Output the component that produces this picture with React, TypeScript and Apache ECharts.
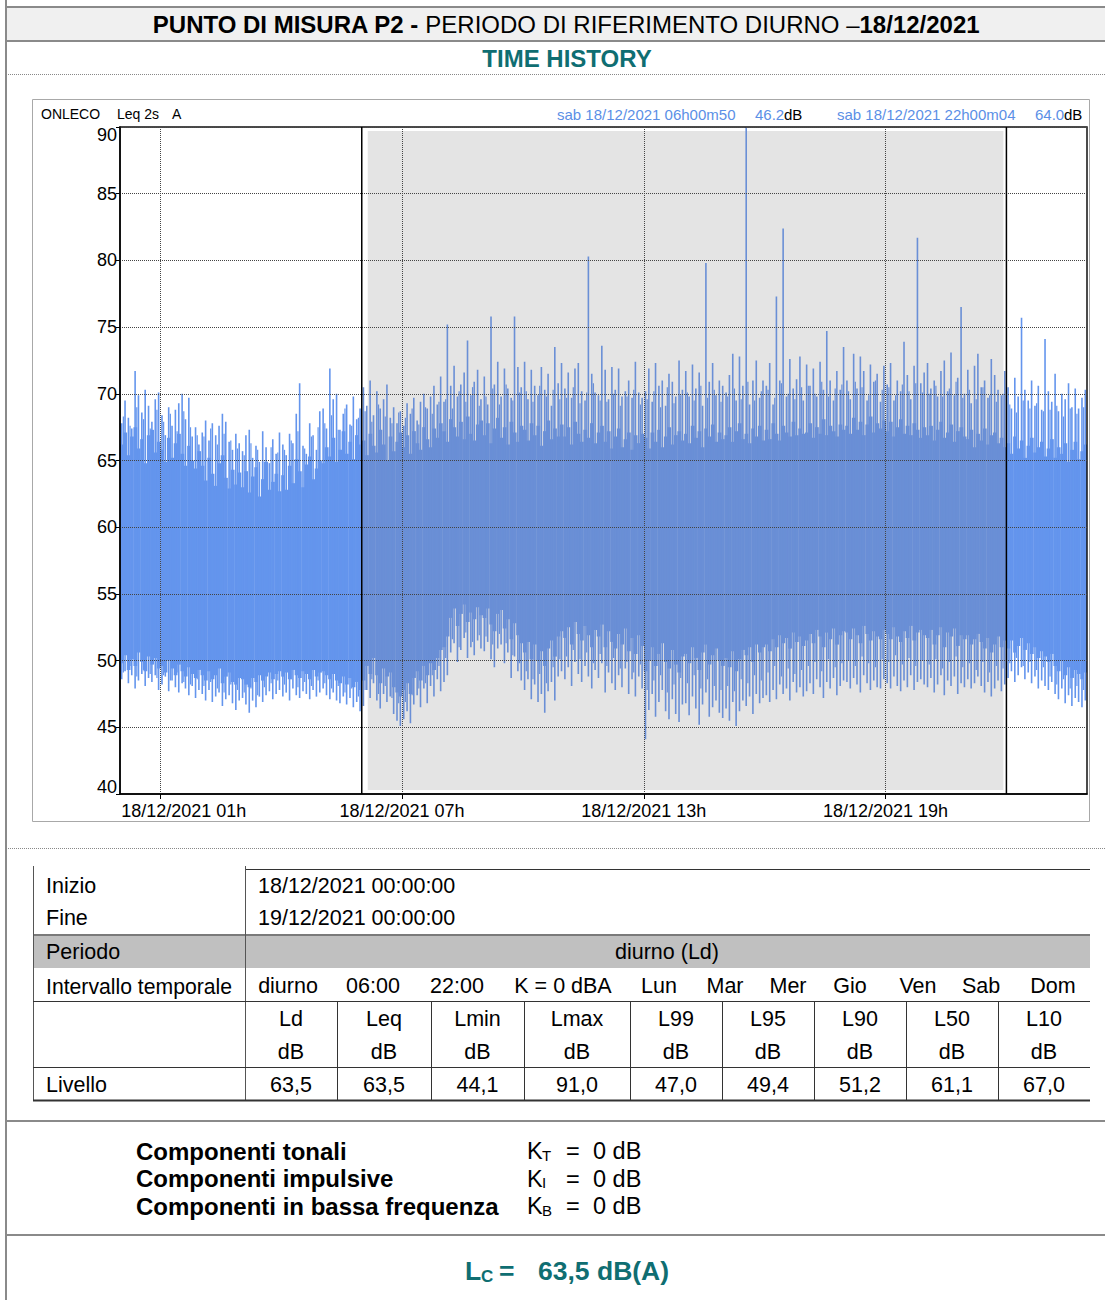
import React, { useEffect, useRef } from 'react';
import * as echarts from 'echarts';

const FONT = '"Liberation Sans", Arial, Helvetica, sans-serif';
const TEAL = '#0f6e72';
const BLUE_TXT = '#5b8fe6';
const NIGHT_BLUE = '#6495ed';
const DAY_BLUE = '#6a8fd6';

// x axis: hours of 18/12/2021
const X_TICK_HOURS = [1, 7, 13, 19];
const DAY_PERIOD = [6, 22];
const DATE_LABEL = '18/12/2021';

// Leq 2s, max per 5-minute bucket (dB), 12 per hour
const MAX_5MIN = [
  67.8, 69.5, 68.2, 67.4, 71.7, 69.9, 68.6, 70.3, 69.1, 67.9, 69.6, 70.1,
  68.4, 66.9, 69.0, 67.6, 68.8, 69.3, 70.0, 68.1, 69.7, 66.8, 67.5, 66.2,
  67.1, 68.0, 66.5, 67.8, 66.9, 67.6, 68.5, 67.9, 66.4, 65.8, 67.0, 66.3,
  65.7, 66.9, 67.3, 65.2, 66.1, 64.9, 67.2, 66.0, 64.8, 66.6, 65.5, 67.1,
  66.2, 65.4, 67.0, 66.3, 68.5, 70.8, 66.1, 65.5, 67.8, 66.9, 65.8, 68.7,
  68.9, 67.4, 71.9, 69.6, 70.0, 67.3, 68.5, 69.2, 67.7, 69.8, 68.1, 68.9,
  70.5, 69.1, 71.0, 68.4, 70.2, 68.9, 69.6, 70.7, 68.2, 69.0, 67.8, 68.7,
  67.6, 69.3, 68.5, 69.7, 68.0, 69.4, 70.0, 68.9, 69.8, 70.6, 69.2, 71.3,
  69.4, 75.2, 70.6, 72.1, 69.8, 70.7, 71.6, 74.0, 69.9, 70.9, 71.8, 69.6,
  71.3, 69.2, 75.8, 70.7, 72.4, 69.8, 71.9, 70.4, 69.7, 75.8, 72.0, 70.5,
  72.4, 69.6, 71.8, 70.6, 69.9, 72.0, 70.3, 71.5, 69.1, 73.5, 70.8, 72.3,
  70.4, 71.6, 69.7, 71.9, 72.3, 70.2, 69.5, 80.3, 71.5, 70.1, 69.9, 73.6,
  71.8, 69.6, 72.0, 70.3, 71.9, 69.8, 70.2, 71.0, 69.7, 72.4, 70.1, 69.7,
  70.2, 71.9, 69.4, 72.3, 70.6, 71.0, 69.1, 71.5, 70.9, 69.8, 72.5, 70.3,
  71.7, 69.8, 72.2, 70.4, 71.6, 69.1, 79.8, 70.9, 72.3, 69.9, 71.0, 70.6,
  70.1, 71.4, 73.0, 69.5, 72.8, 70.6, 91.0, 69.2, 71.0, 72.5, 69.7, 71.0,
  70.6, 72.3, 69.2, 77.3, 71.0, 82.4, 69.8, 72.6, 70.4, 71.1, 72.8, 69.5,
  72.2, 70.6, 71.9, 69.8, 72.4, 70.3, 74.7, 71.0, 69.5, 71.7, 70.3, 73.5,
  71.0, 69.6, 73.0, 70.4, 72.8, 71.7, 69.5, 72.2, 70.9, 71.5, 69.4, 72.1,
  70.7, 72.3, 69.5, 71.0, 70.2, 73.9, 71.4, 69.6, 72.1, 81.7, 70.8, 71.6,
  72.3, 70.4, 71.0, 69.8, 71.7, 72.5, 70.2, 73.1, 69.9, 71.2, 76.5, 70.0,
  71.8, 69.3, 72.1, 73.0, 70.5, 71.0, 69.7, 72.6, 71.4, 70.3, 69.9, 71.7,
  70.5, 68.9, 71.2, 69.8, 75.7, 70.3, 69.5, 71.0, 69.1, 70.6, 68.8, 74.1,
  70.2, 69.4, 71.5, 68.7, 70.0, 69.6, 70.8, 69.0, 70.4, 68.9, 69.7, 70.3,
];

// Leq 2s, min per 5-minute bucket (dB)
const MIN_5MIN = [
  48.6, 49.2, 48.3, 48.9, 47.9, 48.5, 49.0, 48.1, 48.7, 48.4, 48.9, 47.8,
  48.2, 48.8, 47.7, 48.5, 48.0, 47.6, 48.3, 47.9, 47.4, 48.1, 47.2, 47.8,
  47.5, 47.0, 47.8, 46.9, 47.3, 47.6, 46.6, 47.1, 47.4, 46.8, 46.3, 47.0,
  47.2, 46.7, 46.1, 47.0, 46.5, 47.3, 46.9, 47.4, 47.7, 47.1, 47.5, 47.8,
  47.3, 47.6, 47.0, 47.9, 47.4, 47.2, 47.7, 47.5, 47.1, 47.8, 47.3, 47.6,
  47.9, 47.4, 47.1, 47.6, 47.0, 46.8, 47.3, 46.7, 47.2, 46.5, 46.9, 46.2,
  46.6, 47.8, 47.2, 48.3, 47.0, 46.4, 47.5, 46.9, 47.3, 46.0, 45.5, 45.1,
  45.6, 46.2, 45.3, 46.7, 47.4, 46.5, 47.9, 46.8, 48.1, 47.3, 48.6, 47.7,
  48.4, 48.9, 50.6, 51.3, 49.9, 50.8, 51.7, 50.2, 51.0, 50.4, 51.5, 50.9,
  50.7, 51.4, 50.1, 49.5, 50.9, 51.2, 49.8, 50.6, 48.7, 50.3, 49.2, 48.5,
  47.8, 48.6, 47.1, 48.2, 46.9, 47.5, 46.1, 47.7, 48.4, 47.0, 48.8, 49.2,
  48.6, 49.5, 48.1, 49.9, 49.0, 48.4, 49.6, 48.8, 47.9, 49.3, 48.7, 49.8,
  47.6, 49.1, 48.3, 47.8, 48.9, 48.0, 49.4, 47.5, 48.6, 47.3, 48.8, 47.9,
  44.1, 46.3, 47.5, 45.8, 46.9, 47.8, 46.2, 45.6, 47.1, 46.0, 45.4, 46.7,
  46.8, 45.9, 47.3, 46.4, 45.2, 46.7, 47.6, 45.8, 46.5, 47.0, 46.1, 45.7,
  46.4, 45.5, 46.9, 45.1, 46.2, 47.0, 46.6, 47.3, 46.0, 47.5, 46.8, 47.2,
  47.4, 46.9, 47.8, 47.1, 48.2, 47.5, 47.9, 47.0, 48.4, 47.6, 48.0, 47.3,
  47.7, 48.3, 47.5, 48.6, 48.0, 47.2, 48.4, 47.9, 48.7, 47.4, 48.1, 48.5,
  48.4, 47.9, 48.7, 48.2, 47.6, 48.9, 48.3, 47.8, 48.5, 48.0, 47.9, 48.6,
  48.3, 47.9, 48.8, 48.1, 47.7, 48.5, 48.0, 48.9, 47.8, 48.4, 48.6, 48.2,
  48.0, 48.7, 47.6, 48.2, 48.9, 47.4, 48.5, 48.1, 48.8, 47.5, 48.3, 48.0,
  48.6, 47.9, 48.3, 48.8, 48.1, 47.6, 48.4, 47.3, 47.9, 48.5, 47.7, 48.2,
  48.7, 49.2, 48.4, 48.9, 49.5, 48.6, 49.1, 48.3, 48.8, 47.9, 48.5, 48.1,
  47.8, 48.4, 47.5, 47.1, 47.9, 46.8, 47.4, 46.6, 47.2, 46.9, 46.5, 47.0,
];

// secondary peaks / dips per 10 minutes (6 per hour)
const SEC_MAX_10MIN = [
  68.3, 67.6, 69.0, 68.1, 67.4, 68.8, 67.9, 68.5, 67.2, 68.7, 67.5, 66.9,
  66.8, 67.4, 66.2, 67.0, 66.5, 65.9, 65.4, 66.3, 65.8, 64.9, 66.0, 65.6,
  65.8, 66.5, 67.2, 65.9, 66.8, 67.5, 67.8, 68.4, 67.3, 68.9, 67.6, 68.2,
  68.7, 67.9, 69.2, 68.3, 67.8, 68.6, 68.2, 68.9, 67.7, 69.0, 68.5, 69.4,
  69.6, 68.9, 70.2, 69.4, 70.5, 69.1, 69.8, 70.4, 69.2, 70.7, 69.5, 70.1,
  70.2, 69.4, 70.6, 69.8, 70.3, 69.6, 69.7, 70.5, 69.3, 70.1, 70.8, 69.5,
  69.4, 70.0, 69.1, 69.8, 70.3, 69.2, 69.6, 70.2, 69.0, 70.5, 69.3, 69.9,
  70.1, 69.5, 70.6, 69.7, 70.3, 69.4, 69.8, 70.4, 69.6, 70.9, 69.5, 70.2,
  70.3, 69.7, 70.8, 70.0, 69.6, 70.5, 70.6, 70.0, 70.9, 69.8, 70.4, 70.7,
  70.2, 70.9, 70.5, 69.9, 71.0, 70.3, 70.5, 69.9, 70.7, 70.2, 70.8, 70.1,
  70.0, 70.6, 69.8, 70.4, 70.9, 69.7, 70.3, 69.6, 70.5, 69.9, 69.4, 70.0,
  69.2, 68.6, 69.5, 68.9, 69.3, 68.7, 68.8, 69.1, 68.3, 68.9, 68.5, 69.0,
];
const SEC_MIN_10MIN = [
  49.1, 49.6, 48.8, 49.3, 49.0, 48.7, 48.9, 48.5, 49.1, 48.4, 48.2, 48.6,
  48.1, 48.4, 47.9, 47.6, 48.2, 47.8, 47.6, 47.9, 47.4, 48.0, 48.3, 48.5,
  48.2, 48.6, 48.0, 48.4, 48.1, 48.5, 48.3, 47.9, 48.1, 47.6, 47.9, 47.3,
  47.8, 48.6, 47.5, 48.1, 47.2, 46.8, 46.9, 47.4, 47.9, 48.3, 48.9, 49.6,
  50.2, 51.6, 51.0, 52.1, 51.4, 51.9, 51.8, 51.2, 52.0, 51.3, 50.4, 49.8,
  49.2, 48.6, 49.0, 48.3, 49.5, 50.1, 50.3, 50.8, 50.1, 50.6, 49.8, 50.5,
  49.6, 50.2, 49.4, 49.9, 49.1, 49.7, 47.8, 48.5, 48.9, 47.6, 48.2, 48.7,
  48.3, 48.9, 47.9, 48.6, 48.1, 47.8, 48.1, 47.7, 48.6, 48.3, 48.9, 48.5,
  49.1, 49.6, 48.8, 49.4, 49.0, 49.3, 49.6, 49.9, 49.2, 50.1, 49.5, 49.8,
  50.0, 49.6, 50.3, 49.8, 49.5, 50.1, 49.9, 50.4, 49.7, 50.2, 49.6, 50.0,
  49.7, 50.1, 49.4, 49.9, 50.3, 49.5, 49.8, 49.3, 49.9, 49.1, 49.6, 49.4,
  49.8, 50.2, 49.6, 49.9, 49.3, 49.5, 48.8, 48.2, 48.6, 47.9, 48.1, 47.8,
];

// upper edge of the dense part of the signal, per 5 minutes
const CORE_HI_5MIN = [
  66.2, 67.1, 65.4, 66.8, 67.5, 65.9, 66.6, 64.8, 66.9, 67.3, 65.6, 66.4,
  65.8, 64.9, 66.7, 65.2, 66.3, 67.0, 65.5, 64.6, 66.1, 65.0, 64.4, 65.7,
  64.6, 63.5, 65.2, 64.0, 63.1, 64.8, 65.4, 63.7, 62.9, 64.3, 63.2, 64.1,
  63.0, 64.2, 62.6, 63.8, 64.5, 62.3, 63.6, 64.9, 62.8, 63.4, 64.0, 62.7,
  63.9, 62.8, 64.6, 63.3, 65.1, 64.2, 63.0, 64.7, 65.3, 63.6, 64.4, 65.0,
  64.8, 66.0, 65.3, 66.7, 64.9, 65.8, 67.2, 65.5, 66.4, 65.1, 66.9, 66.2,
  66.5, 65.4, 67.0, 66.1, 65.6, 67.3, 66.2, 65.0, 66.8, 65.7, 66.4, 67.1,
  66.0, 66.9, 65.5, 67.2, 66.3, 65.8, 67.5, 66.6, 66.0, 67.4, 66.7, 67.8,
  67.2, 66.4, 68.1, 67.5, 66.8, 67.9, 66.6, 68.3, 67.0, 66.5, 67.7, 68.0,
  66.9, 67.8, 66.3, 67.4, 68.2, 66.7, 67.5, 66.2, 67.9, 67.1, 66.4, 67.6,
  67.3, 66.5, 67.8, 66.9, 67.6, 66.1, 67.2, 68.0, 66.6, 67.4, 66.8, 67.7,
  66.8, 67.5, 66.2, 67.9, 67.0, 66.4, 67.3, 66.7, 67.8, 66.3, 67.1, 67.6,
  66.4, 67.2, 65.9, 66.8, 67.4, 66.0, 66.6, 67.1, 65.8, 66.9, 66.3, 67.0,
  66.7, 65.9, 67.1, 66.4, 67.3, 66.0, 66.8, 67.5, 66.2, 66.9, 67.2, 66.5,
  67.0, 66.3, 67.6, 66.7, 67.2, 66.0, 67.4, 66.8, 67.7, 66.4, 67.1, 66.6,
  66.9, 67.5, 66.4, 67.2, 67.8, 66.6, 67.0, 66.3, 67.4, 66.8, 67.6, 66.5,
  67.3, 66.6, 67.8, 67.0, 66.5, 67.6, 67.1, 66.8, 67.9, 66.9, 67.4, 67.0,
  67.1, 67.8, 66.7, 67.5, 67.0, 68.1, 66.9, 67.6, 67.2, 66.8, 67.7, 67.3,
  67.6, 67.0, 68.2, 67.3, 67.9, 66.9, 67.7, 68.3, 67.1, 67.8, 67.4, 68.0,
  67.2, 67.9, 66.8, 67.5, 68.1, 67.0, 67.6, 66.9, 67.8, 67.3, 66.7, 67.5,
  66.9, 67.6, 66.5, 67.3, 67.9, 66.7, 67.1, 67.7, 66.4, 67.2, 67.5, 66.8,
  66.6, 67.3, 66.0, 67.0, 66.5, 67.4, 66.2, 66.9, 67.1, 66.3, 66.7, 66.0,
  66.3, 65.5, 66.8, 65.9, 66.5, 65.2, 66.1, 66.7, 65.6, 66.0, 66.4, 65.3,
  65.9, 66.6, 65.2, 66.0, 65.5, 66.3, 64.9, 65.8, 66.4, 65.1, 65.7, 66.2,
];

// lower edge of the dense part of the signal, per 5 minutes
const CORE_LO_5MIN = [
  49.8, 50.4, 49.3, 50.1, 49.6, 50.6, 49.9, 49.2, 50.3, 49.7, 50.2, 49.4,
  49.6, 49.1, 50.0, 49.4, 48.9, 49.7, 49.2, 48.8, 49.5, 49.0, 48.7, 49.3,
  48.9, 48.5, 49.2, 48.6, 48.9, 49.4, 48.3, 48.8, 49.1, 48.4, 48.2, 48.7,
  48.6, 48.2, 48.0, 48.7, 48.4, 48.9, 48.5, 48.8, 49.1, 48.6, 49.0, 49.2,
  48.8, 49.1, 48.6, 49.3, 48.9, 48.7, 49.2, 49.0, 48.6, 49.3, 48.8, 49.1,
  49.2, 48.9, 48.6, 49.0, 48.5, 48.3, 48.8, 48.2, 48.7, 48.0, 48.4, 47.8,
  48.5, 49.6, 49.0, 50.2, 48.9, 48.3, 49.4, 48.8, 49.1, 48.0, 47.6, 47.3,
  47.8, 48.3, 47.5, 48.7, 49.2, 48.5, 49.6, 48.9, 49.8, 49.3, 50.2, 50.8,
  51.0, 51.8, 53.2, 53.9, 52.6, 53.5, 54.2, 52.9, 53.6, 53.1, 54.0, 53.4,
  53.2, 53.9, 52.7, 52.2, 53.5, 53.8, 52.4, 53.1, 51.6, 52.8, 51.9, 51.3,
  50.6, 51.4, 50.1, 51.2, 50.0, 50.7, 49.6, 50.9, 51.5, 50.3, 51.8, 52.2,
  51.7, 52.5, 51.2, 52.9, 52.0, 51.5, 52.6, 51.9, 51.0, 52.3, 51.8, 52.7,
  51.0, 52.2, 51.4, 50.9, 52.0, 51.2, 52.4, 50.7, 51.7, 50.5, 51.9, 51.1,
  49.2, 50.0, 51.0, 49.6, 50.5, 51.3, 49.9, 49.4, 50.8, 49.7, 49.1, 50.3,
  50.5, 49.8, 51.0, 50.2, 49.3, 50.6, 51.2, 49.7, 50.4, 50.9, 50.0, 49.6,
  50.2, 49.5, 50.7, 49.2, 50.1, 50.8, 50.4, 51.0, 49.9, 51.2, 50.6, 51.0,
  51.2, 50.7, 51.6, 51.0, 51.9, 51.3, 51.7, 50.9, 52.1, 51.4, 51.8, 51.1,
  51.5, 52.0, 51.3, 52.3, 51.8, 51.0, 52.1, 51.6, 52.4, 51.2, 51.9, 52.2,
  52.1, 51.6, 52.4, 51.9, 51.3, 52.6, 52.0, 51.5, 52.2, 51.8, 51.6, 52.3,
  52.0, 51.6, 52.5, 51.8, 51.4, 52.2, 51.7, 52.6, 51.5, 52.1, 52.3, 51.9,
  51.7, 52.3, 51.2, 51.9, 52.5, 51.0, 52.1, 51.8, 52.4, 51.1, 51.9, 51.6,
  51.9, 51.2, 51.6, 52.0, 51.4, 50.9, 51.7, 50.6, 51.2, 51.8, 51.0, 51.5,
  50.9, 51.5, 50.6, 51.1, 51.7, 50.8, 51.3, 50.5, 51.0, 50.2, 50.7, 50.3,
  49.9, 50.5, 49.6, 49.2, 50.0, 48.9, 49.5, 48.7, 49.3, 49.0, 48.6, 49.1,
];

// table content
const TABLE_INIZIO = '18/12/2021 00:00:00';
const TABLE_FINE = '19/12/2021 00:00:00';
const TABLE_PERIODO = 'diurno (Ld)';
const INTERVALLO_ITEMS = ['diurno', '06:00', '22:00', 'K = 0 dBA', 'Lun', 'Mar', 'Mer', 'Gio', 'Ven', 'Sab', 'Dom'];
const INTERVALLO_X = [288, 373, 457, 563, 659, 725, 788, 850, 918, 981, 1053];
const LEVEL_NAMES = ['Ld', 'Leq', 'Lmin', 'Lmax', 'L99', 'L95', 'L90', 'L50', 'L10'];
const LEVEL_VALUES = ['63,5', '63,5', '44,1', '91,0', '47,0', '49,4', '51,2', '61,1', '67,0'];
const COL_EDGES = [245, 337, 431, 524, 630, 722, 814, 906, 998, 1090];

const COMPONENTS = ['Componenti tonali', 'Componenti impulsive', 'Componenti in bassa frequenza'];
const K_SUBS = ['T', 'I', 'B'];
const K_VALUES = ['0 dB', '0 dB', '0 dB'];
const LC_VALUE = '63,5 dB(A)';

function txt(x: number, y: number, text: string, o: any = {}) {
  return {
    type: 'text', x, y, silent: true, z: 50,
    style: {
      text, fontFamily: FONT, fontSize: o.size ?? 21.5,
      fontWeight: o.bold ? 'bold' : 'normal', fill: o.color ?? '#000',
      align: o.align ?? 'left', verticalAlign: 'middle',
    },
  };
}
function line(x1: number, y1: number, x2: number, y2: number, stroke = '#555', lw = 1, dash?: number[]) {
  return { type: 'line', silent: true, z: 50, shape: { x1, y1, x2, y2 }, style: { stroke, lineWidth: lw, lineDash: dash } };
}

function buildGraphic() {
  const g: any[] = [];
  // header band
  g.push({ type: 'rect', silent: true, z: 40, shape: { x: 6, y: 6, width: 1099, height: 35 }, style: { fill: '#f0f0f0' } });
  g.push(line(6, 7, 1105, 7, '#8a8a8a', 2));
  g.push(line(6, 41, 1105, 41, '#8a8a8a', 2));
  g.push(line(6, 0, 6, 1300, '#8a8a8a', 2));
  g.push({
    type: 'text', x: 566, y: 24, silent: true, z: 50,
    style: {
      text: '{b|PUNTO DI MISURA P2 - }{n|PERIODO DI RIFERIMENTO DIURNO –}{b|18/12/2021}',
      align: 'center', verticalAlign: 'middle',
      rich: {
        b: { fontFamily: FONT, fontSize: 24, fontWeight: 'bold', fill: '#000' },
        n: { fontFamily: FONT, fontSize: 24, fill: '#000' },
      },
    },
  });
  g.push(txt(567, 58, 'TIME HISTORY', { size: 24, bold: true, color: TEAL, align: 'center' }));
  g.push(line(6, 74.5, 1105, 74.5, '#888', 1, [1, 1]));

  // chart panel
  g.push({ type: 'rect', silent: true, z: 1, shape: { x: 32.5, y: 99.5, width: 1057, height: 722 }, style: { fill: 'none', stroke: '#a8a8a8', lineWidth: 1 } });
  g.push(txt(41, 114, 'ONLECO', { size: 14 }));
  g.push(txt(117, 114, 'Leq 2s', { size: 14 }));
  g.push(txt(172, 114, 'A', { size: 14 }));
  g.push(txt(557, 114, 'sab 18/12/2021 06h00m50', { size: 15, color: BLUE_TXT }));
  g.push(txt(755, 114, '46.2', { size: 15, color: BLUE_TXT }));
  g.push(txt(784, 114, 'dB', { size: 15 }));
  g.push(txt(837, 114, 'sab 18/12/2021 22h00m04', { size: 15, color: BLUE_TXT }));
  g.push(txt(1035, 114, '64.0', { size: 15, color: BLUE_TXT }));
  g.push(txt(1064, 114, 'dB', { size: 15 }));

  g.push(line(6, 848.5, 1105, 848.5, '#888', 1, [1, 1]));

  // table
  g.push({ type: 'rect', silent: true, z: 40, shape: { x: 33, y: 935, width: 1057, height: 33 }, style: { fill: '#c0c0c0' } });
  g.push(line(33, 935, 1090, 935, '#7a7a7a', 2));
  g.push(line(245, 869.5, 1090, 869.5, '#333', 1));
  g.push(line(33.5, 866, 33.5, 1100, '#555', 1));
  g.push(line(245.5, 866, 245.5, 1100, '#555', 1));
  g.push(line(33, 1001.5, 1090, 1001.5, '#333', 1.2));
  g.push(line(33, 1067.5, 1090, 1067.5, '#333', 1.2));
  g.push(line(33, 1100.5, 1090, 1100.5, '#333', 2));
  COL_EDGES.slice(1, -1).forEach((x) => g.push(line(x + 0.5, 1001, x + 0.5, 1100, '#333', 1)));

  g.push(txt(46, 886, 'Inizio'));
  g.push(txt(46, 918, 'Fine'));
  g.push(txt(46, 952, 'Periodo'));
  g.push(txt(46, 986, 'Intervallo temporale', { size: 21.2 }));
  g.push(txt(46, 1085, 'Livello'));
  g.push(txt(258, 886, TABLE_INIZIO));
  g.push(txt(258, 918, TABLE_FINE));
  g.push(txt(667, 952, TABLE_PERIODO, { align: 'center' }));
  INTERVALLO_ITEMS.forEach((s, i) => g.push(txt(INTERVALLO_X[i], 986, s, { align: 'center' })));
  LEVEL_NAMES.forEach((s, i) => {
    const cx = (COL_EDGES[i] + COL_EDGES[i + 1]) / 2;
    g.push(txt(cx, 1019, s, { align: 'center' }));
    g.push(txt(cx, 1052, 'dB', { align: 'center' }));
    g.push(txt(cx, 1085, LEVEL_VALUES[i], { align: 'center' }));
  });

  g.push(line(6, 1121, 1105, 1121, '#8a8a8a', 2));
  g.push(line(6, 1235, 1105, 1235, '#8a8a8a', 2));

  COMPONENTS.forEach((s, i) => {
    const y = 1151 + i * 27.5;
    g.push(txt(136, y, s, { size: 24, bold: true }));
    g.push(txt(527, y, 'K', { size: 23.5 }));
    g.push(txt(542, y + 4, K_SUBS[i], { size: 15 }));
    g.push(txt(566, y, '=', { size: 23.5 }));
    g.push(txt(593, y, K_VALUES[i], { size: 23.5 }));
  });

  g.push(txt(465, 1271, 'L', { size: 26.5, bold: true, color: TEAL }));
  g.push(txt(481, 1276, 'C', { size: 17, bold: true, color: TEAL }));
  g.push(txt(499, 1271, '=', { size: 26.5, bold: true, color: TEAL }));
  g.push(txt(538, 1271, LC_VALUE, { size: 26.5, bold: true, color: TEAL }));
  return g;
}

const isDay = (t: number) => t >= DAY_PERIOD[0] && t < DAY_PERIOD[1];

function strokeSeries(name: string, data: number[][], width: number) {
  return {
    type: 'custom', name, z: -2, silent: true, clip: true,
    data,
    encode: { x: 0, y: [1, 2] },
    renderItem: (p: any, api: any) => {
      const t = api.value(0);
      const a = api.coord([t, api.value(1)]);
      const b = api.coord([t, api.value(2)]);
      return { type: 'line', shape: { x1: a[0], y1: a[1], x2: b[0], y2: b[1] }, style: { stroke: isDay(t) ? DAY_BLUE : NIGHT_BLUE, lineWidth: width } };
    },
  };
}

function buildOption(): any {
  const coreData = CORE_HI_5MIN.map((h, i) => [i / 12, CORE_LO_5MIN[i], h]);
  const fringeData = MAX_5MIN.map((h, i) => [(i + 0.5) / 12, MIN_5MIN[i], h]);
  const secData = SEC_MAX_10MIN.map((h, j) => [(2 * j + 1) / 12, SEC_MIN_10MIN[j], h]);
  const labelStyle = { fontFamily: FONT, fontSize: 18, color: '#000' };
  return {
    animation: false,
    backgroundColor: '#fff',
    grid: { left: 120, top: 127, width: 967, height: 667, show: true, borderColor: '#111', borderWidth: 1.5, backgroundColor: 'transparent', containLabel: false, outerBoundsMode: 'none' },
    xAxis: {
      type: 'value', min: 0, max: 24,
      axisLine: { show: true, onZero: false, lineStyle: { color: '#000', width: 1.5 } },
      axisTick: { show: true, customValues: X_TICK_HOURS, length: 5, lineStyle: { color: '#000' } },
      axisLabel: {
        customValues: X_TICK_HOURS, margin: 8, ...labelStyle,
        formatter: (v: number) => {
          const s = `${DATE_LABEL} ${String(v).padStart(2, '0')}h`;
          return v === X_TICK_HOURS[0] ? `{f|${s}}` : s;
        },
        rich: { f: { ...labelStyle, padding: [0, 0, 0, 47] } },
      },
      splitLine: { show: true, customValues: X_TICK_HOURS, lineStyle: { type: 'dotted', color: '#444', width: 1 } },
    },
    yAxis: {
      type: 'value', min: 40, max: 90, interval: 5,
      axisLine: { show: true, lineStyle: { color: '#000', width: 1.5 } },
      axisTick: { show: true, length: 4, lineStyle: { color: '#000' } },
      axisLabel: {
        margin: 3, ...labelStyle,
        formatter: (v: number) => (v === 90 ? `{t|${v}}` : v === 40 ? `{b|${v}}` : `${v}`),
        rich: {
          t: { ...labelStyle, padding: [16, 0, 0, 0] },
          b: { ...labelStyle, padding: [0, 0, 14, 0] },
        },
      },
      splitLine: { show: true, lineStyle: { type: 'dotted', color: '#444', width: 1 } },
    },
    series: [
      {
        type: 'custom', name: 'dayArea', z: -3, silent: true,
        data: [[DAY_PERIOD[0], DAY_PERIOD[1]]],
        renderItem: (p: any, api: any) => {
          const a = api.coord([api.value(0), 90]);
          const b = api.coord([api.value(1), 40]);
          return { type: 'rect', shape: { x: a[0] + 6, y: a[1] + 4, width: b[0] - a[0] - 9, height: b[1] - a[1] - 8 }, style: { fill: '#e4e4e4' } };
        },
      },
      {
        type: 'custom', name: 'core', z: -2, silent: true, clip: true,
        data: coreData,
        encode: { x: 0, y: [1, 2] },
        renderItem: (p: any, api: any) => {
          const t = api.value(0);
          const a = api.coord([t, api.value(1)]);
          const b = api.coord([t + 1 / 12, api.value(2)]);
          return { type: 'rect', shape: { x: a[0], y: b[1], width: b[0] - a[0] + 0.4, height: a[1] - b[1] }, style: { fill: isDay(t) ? DAY_BLUE : NIGHT_BLUE } };
        },
      },
      strokeSeries('secondary', secData, 1.2),
      strokeSeries('Leq 2s', fringeData, 1.6),
      {
        type: 'custom', name: 'dayBounds', z: 5, silent: true,
        data: DAY_PERIOD.map((t) => [t, 40]),
        renderItem: (p: any, api: any) => {
          const a = api.coord([api.value(0), 40]);
          const b = api.coord([api.value(0), 90]);
          return { type: 'line', shape: { x1: a[0], y1: a[1], x2: b[0], y2: b[1] }, style: { stroke: '#000', lineWidth: 1.5 } };
        },
      },
    ],
    graphic: buildGraphic(),
  };
}

export default function App() {
  const ref = useRef<HTMLDivElement>(null);
  useEffect(() => {
    const chart = echarts.init(ref.current as HTMLDivElement, null, { renderer: 'svg' });
    chart.setOption(buildOption());
    return () => chart.dispose();
  }, []);
  return <div ref={ref} style={{ position: 'absolute', left: 0, top: 0, width: 1105, height: 1300, background: '#fff' }} />;
}
